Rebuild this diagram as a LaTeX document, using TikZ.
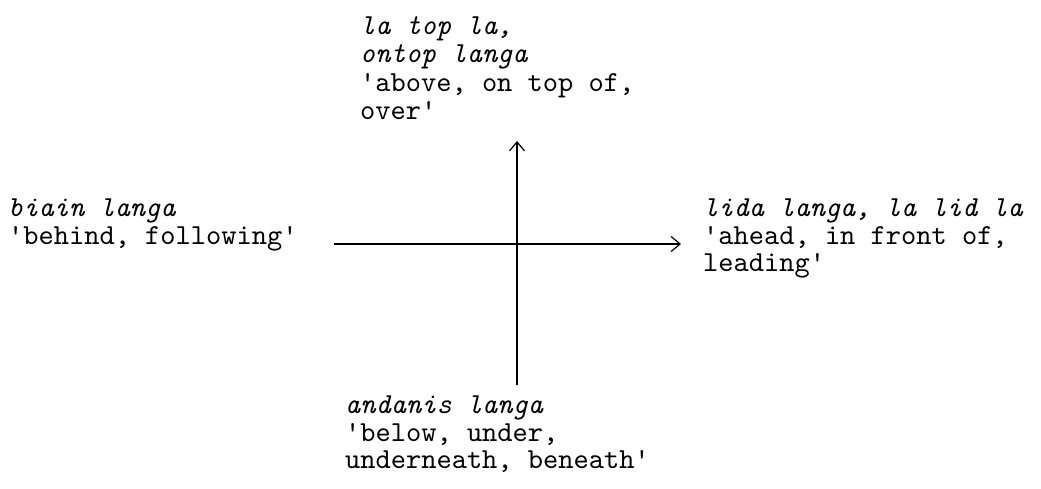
\documentclass[tikz,border=0pt]{standalone}
\usepackage{fontspec}
\newfontfamily\tw{lmmono10-regular.otf}[ItalicFont=lmmono10-italic.otf]
\usetikzlibrary{arrows.meta}
\begin{document}
\begin{tikzpicture}[x=1pt,y=-1pt,
  lbl/.style={anchor=north west,inner sep=0pt,align=left,
    font=\fontsize{29}{27.5}\selectfont\tw},
  axis/.style={line width=1.2pt,black},
  tip/.style={-{Straight Barb[length=9pt,width=15pt,line width=1.2pt]}}]
\useasboundingbox (0,0) rectangle (1041,488);
\node[lbl,font=\fontsize{29}{28.5}\selectfont\tw] (top) at (360,16) {\textit{la top la,}\\\textit{ontop langa}\\'above, on top of,\\over'};
\node[lbl] (left) at (8,199) {\textit{biain langa}\\'behind, following'};
\node[lbl] (right) at (703,199) {\textit{lida langa, la lid la}\\'ahead, in front of,\\leading'};
\node[lbl] (bottom) at (345,396) {\textit{andanis langa}\\'below, under,\\underneath, beneath'};
\coordinate (vs) at (517,385);
\coordinate (ve) at (517,141);
\coordinate (hs) at (334,244);
\coordinate (he) at (681,244);
\draw[axis,tip] (vs) -- (ve);
\draw[axis,tip] (hs) -- (he);
\end{tikzpicture}
\end{document}
